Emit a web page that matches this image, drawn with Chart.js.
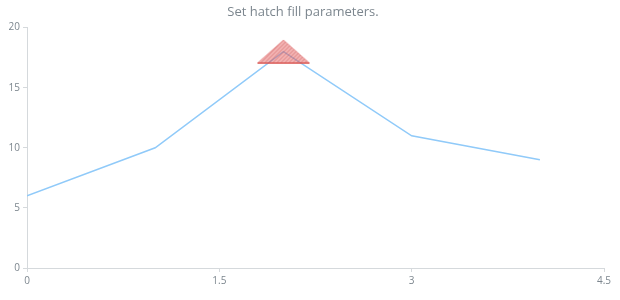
<!DOCTYPE html>
<html>
<head>
<meta charset="utf-8">
<script src="https://cdn.jsdelivr.net/npm/chart.js@4"></script>
<style>
  html, body { margin: 0; padding: 0; background: #fff; }
  #wrap { width: 620px; height: 300px; }
</style>
</head>
<body>
<div id="wrap"><canvas id="chart"></canvas></div>
<script>
const xValues = [0, 1, 2, 3, 4];
const yValues = [6, 10, 18, 11, 9];
const markerX = [2];
const markerY = [18];
const xTicks = [0, 1.5, 3, 4.5];

const textColor = "#7c868e";
const axisColor = "#d5d9dc";

// hatched triangle used as the marker image
const makeMarker = () => {
  const w = 54, h = 25;
  const c = document.createElement("canvas");
  c.width = w;
  c.height = h;
  const ctx = c.getContext("2d");
  ctx.beginPath();
  ctx.moveTo(1, h - 1);
  ctx.lineTo(w / 2, 1);
  ctx.lineTo(w - 1, h - 1);
  ctx.closePath();
  ctx.fillStyle = "rgba(229, 100, 100, 0.5)";
  ctx.fill();
  ctx.save();
  ctx.clip();
  ctx.strokeStyle = "rgba(190, 70, 70, 0.4)";
  ctx.lineWidth = 1;
  for (let i = -h; i < w + h; i += 4) {
    ctx.beginPath();
    ctx.moveTo(i, h);
    ctx.lineTo(i + h, 0);
    ctx.stroke();
  }
  ctx.restore();
  ctx.strokeStyle = "rgba(220, 90, 90, 0.6)";
  ctx.beginPath();
  ctx.moveTo(1, h - 1);
  ctx.lineTo(w / 2, 1);
  ctx.lineTo(w - 1, h - 1);
  ctx.stroke();
  ctx.strokeStyle = "#d9534f";
  ctx.lineWidth = 1.5;
  ctx.beginPath();
  ctx.moveTo(1, h - 1);
  ctx.lineTo(w - 1, h - 1);
  ctx.stroke();
  return c;
};

const data = {
  datasets: [
    {
      label: "marker",
      data: markerX.map((x, i) => ({ x, y: markerY[i] })),
      showLine: false,
      pointStyle: makeMarker(),
      pointRadius: 15,
      order: 0,
    },
    {
      label: "series",
      data: xValues.map((x, i) => ({ x, y: yValues[i] })),
      borderColor: "#90caf9",
      borderWidth: 1.5,
      tension: 0,
      pointRadius: 0,
      fill: false,
      order: 1,
    },
  ],
};

const options = {
  responsive: true,
  maintainAspectRatio: false,
  animation: false,
  events: [],
  layout: { padding: { left: 0, right: 14, top: 0, bottom: 0 } },
  plugins: {
    legend: { display: false },
    tooltip: { enabled: false },
    title: {
      display: true,
      text: "Set hatch fill parameters.",
      color: textColor,
      font: { family: "'Open Sans', sans-serif", size: 13, weight: "normal" },
      padding: { top: 4, bottom: 8 },
    },
  },
  scales: {
    x: {
      type: "linear",
      min: 0,
      max: 4.5,
      afterBuildTicks: (axis) => {
        axis.ticks = xTicks.map((v) => ({ value: v }));
      },
      afterFit: (axis) => {
        axis.height = 32;
      },
      grid: { drawOnChartArea: false, color: axisColor, tickLength: 4 },
      border: { color: axisColor },
      ticks: {
        color: textColor,
        padding: 3,
        maxRotation: 0,
        font: { family: "'Open Sans', sans-serif", size: 10 },
      },
    },
    y: {
      min: 0,
      max: 20,
      afterFit: (axis) => {
        axis.width = 27;
      },
      grid: { drawOnChartArea: false, color: axisColor, tickLength: 4 },
      border: { color: axisColor },
      ticks: {
        stepSize: 5,
        color: textColor,
        padding: 3,
        font: { family: "'Open Sans', sans-serif", size: 10 },
      },
    },
  },
};

new Chart(document.getElementById("chart"), { type: "line", data, options });
</script>
</body>
</html>
